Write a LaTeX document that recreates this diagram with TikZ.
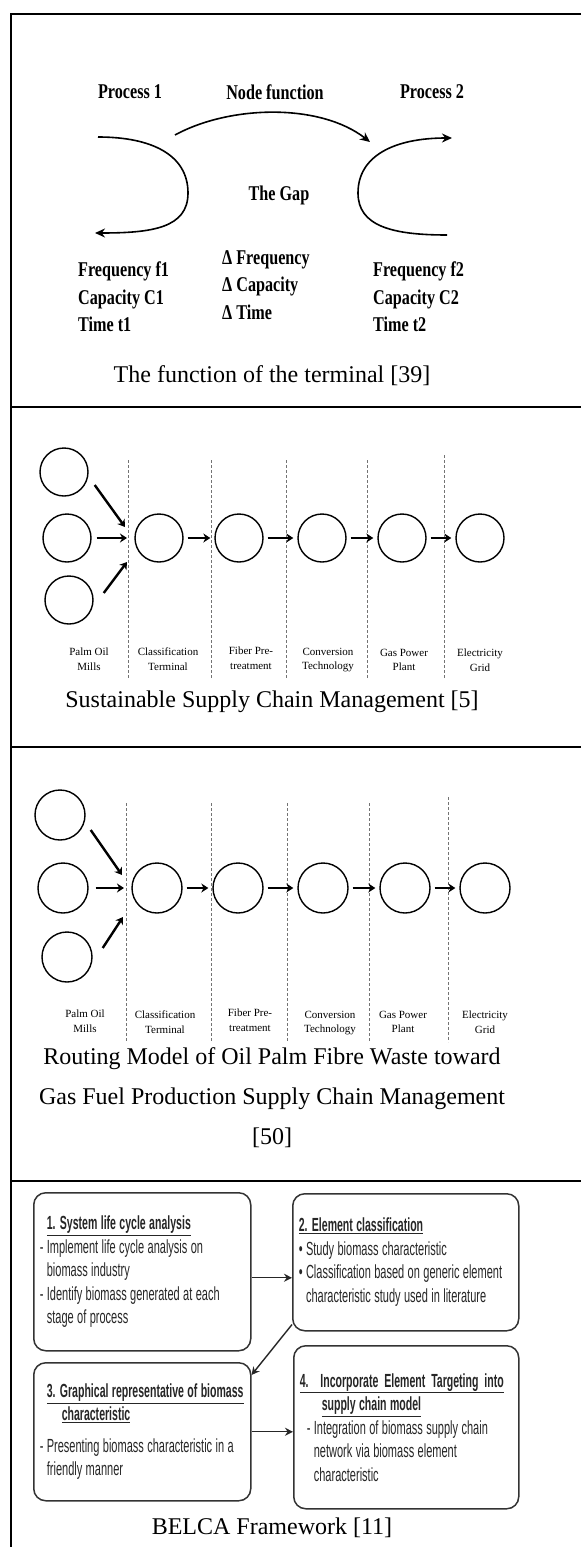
\documentclass[tikz,border=0pt]{standalone}
\usepackage{fontspec}
\setmainfont{Liberation Serif}
\newfontfamily\gapfont[FakeStretch=0.77]{Liberation Serif}
\newfontfamily\belcafont[FakeStretch=0.58]{Liberation Sans}
\newfontfamily\belcahead[FakeStretch=0.555]{Liberation Sans}
\newcommand{\narrowspace}[1]{\spaceskip=#1 plus 1pt minus 0.5pt\relax}
\usepackage{tikz}
\usetikzlibrary{arrows.meta,positioning,calc}

\begin{document}
\begin{tikzpicture}[
    x=1pt, y=-1pt,
    rule/.style={line width=1.8pt},
    caption/.style={font=\fontsize{24}{40}\selectfont, align=center, inner sep=0pt},
    gaptext/.style={font=\gapfont\bfseries\fontsize{21}{27.5}\selectfont\narrowspace{4pt},
                    align=left, inner sep=0pt},
    curve/.style={-{Stealth[length=10pt,width=9pt]}, line width=1.6pt},
    mill/.style={draw, circle, line width=1.4pt, minimum size=48pt, inner sep=0pt},
    stage/.style={font=\fontsize{11}{14.5}\selectfont, align=center, inner sep=0pt},
    divider/.style={densely dashed, black!55, line width=0.8pt},
    flow/.style={-{Stealth[length=7pt,width=9pt]}, line width=2.4pt},
    phase/.style={draw=black!80, line width=1.5pt, rounded corners=12pt, anchor=north west, align=flush left,
                  inner xsep=6pt, text=black!85,
                  font=\belcafont\fontsize{19}{23.5}\selectfont\narrowspace{3.4pt}},
    link/.style={-{Stealth[length=8pt,width=8pt]}, line width=1.4pt, black!85}
]
    \useasboundingbox (0,0) rectangle (581,1547);

    % table rules
    \draw[rule] (581,14) -- (11,14) -- (11,1547);
    \draw[rule] (11,407) -- (581,407);
    \draw[rule] (11,747) -- (581,747);
    \draw[rule] (11,1181) -- (581,1181);

    % terminal function
    \node[gaptext] (proc1) at (130,92) {Process 1};
    \node[gaptext] (nodefn) at (275,92) {Node function};
    \node[gaptext] (proc2) at (432,92) {Process 2};
    \node[gaptext] (gap) at (279,195) {The Gap};
    \node[gaptext, anchor=west] (delta) at (222,285) {Δ Frequency\\Δ Capacity\\Δ Time};
    \node[gaptext, anchor=west] (side1) at (78,297) {Frequency f1\\Capacity C1\\Time t1};
    \node[gaptext, anchor=west] (side2) at (373,297) {Frequency f2\\Capacity C2\\Time t2};

    \coordinate (p1in) at (98,137);
    \coordinate (p1out) at (95,233);
    \coordinate (p1top) at (175,135);
    \coordinate (p2top) at (370,142);
    \coordinate (p2in) at (447,235);
    \coordinate (p2out) at (452,138);
    \draw[curve] (p1in) .. controls (152,137) and (188,155) .. (188,193)
                        .. controls (188,228) and (152,233) .. (p1out);
    \draw[curve] (p1top) .. controls (230,105) and (320,103) .. (p2top);
    \draw[curve] (p2in) .. controls (392,235) and (358,226) .. (358,193)
                        .. controls (358,156) and (394,138) .. (p2out);

    \node[caption] (cap1) at (272,376) {The function of the terminal [39]};

    % sustainable supply chain
    \draw[divider] (128,460) -- (128,678);
    \draw[divider] (211,460) -- (211,678);
    \draw[divider] (286,460) -- (286,678);
    \draw[divider] (367,460) -- (367,678);
    \draw[divider] (444,455) -- (444,678);

    \node[mill] (a1) at (64,472) {};
    \node[mill] (a2) at (67,538) {};
    \node[mill] (a3) at (69,600) {};
    \node[mill] (a4) at (159,538) {};
    \node[mill] (a5) at (239,538) {};
    \node[mill] (a6) at (322,538) {};
    \node[mill] (a7) at (402,538) {};
    \node[mill] (a8) at (480,538) {};

    \coordinate (ja1) at (125,527);
    \coordinate (ja2) at (127,538);
    \coordinate (ja3) at (127,562);
    \draw[flow] ($(a1.east)+(6,13)$) -- (ja1);
    \draw[flow, shorten <=5pt] (a2) -- (ja2);
    \draw[flow] ($(a3.east)+(10,-7)$) -- (ja3);
    \draw[flow, shorten <=4pt, shorten >=4pt] (a4) -- (a5);
    \draw[flow, shorten <=4pt, shorten >=4pt] (a5) -- (a6);
    \draw[flow, shorten <=4pt, shorten >=4pt] (a6) -- (a7);
    \draw[flow, shorten <=4pt, shorten >=4pt] (a7) -- (a8);

    \node[stage] (la1) at (89,659) {Palm Oil\\Mills};
    \node[stage] (la2) at (168,659) {Classification\\Terminal};
    \node[stage] (la3) at (251,658) {Fiber Pre-\\treatment};
    \node[stage] (la4) at (328,660) {Conversion\\Technology};
    \node[stage] (la5) at (404,660) {Gas Power\\Plant};
    \node[stage] (la6) at (480,660) {Electricity\\Grid};

    \node[caption] (cap2) at (272,702) {Sustainable Supply Chain Management [5]};

    % routing model
    \draw[divider] (126,803) -- (126,1042);
    \draw[divider] (211,803) -- (211,1042);
    \draw[divider] (287,803) -- (287,1042);
    \draw[divider] (369,803) -- (369,1042);
    \draw[divider] (448,797) -- (448,1042);

    \node[mill, minimum size=50pt] (b1) at (60,815) {};
    \node[mill, minimum size=50pt] (b2) at (63,888) {};
    \node[mill, minimum size=50pt] (b3) at (67,957) {};
    \node[mill, minimum size=50pt] (b4) at (157,888) {};
    \node[mill, minimum size=50pt] (b5) at (238,888) {};
    \node[mill, minimum size=50pt] (b6) at (323,888) {};
    \node[mill, minimum size=50pt] (b7) at (405,888) {};
    \node[mill, minimum size=50pt] (b8) at (485,888) {};

    \coordinate (jb1) at (122,875);
    \coordinate (jb2) at (124,888);
    \coordinate (jb3) at (123,917);
    \draw[flow] ($(b1.east)+(5,15)$) -- (jb1);
    \draw[flow, shorten <=7pt] (b2) -- (jb2);
    \draw[flow] ($(b3.east)+(10,-9)$) -- (jb3);
    \draw[flow, shorten <=4pt, shorten >=4pt] (b4) -- (b5);
    \draw[flow, shorten <=4pt, shorten >=4pt] (b5) -- (b6);
    \draw[flow, shorten <=4pt, shorten >=4pt] (b6) -- (b7);
    \draw[flow, shorten <=4pt, shorten >=4pt] (b7) -- (b8);

    \node[stage] (lb1) at (85,1021) {Palm Oil\\Mills};
    \node[stage] (lb2) at (165,1022) {Classification\\Terminal};
    \node[stage] (lb3) at (250,1020) {Fiber Pre-\\treatment};
    \node[stage] (lb4) at (330,1023) {Conversion\\Technology};
    \node[stage] (lb5) at (403,1022) {Gas Power\\Plant};
    \node[stage] (lb6) at (485,1022) {Electricity\\Grid};

    \node[caption] (cap3) at (272,1098) {Routing Model of Oil Palm Fibre Waste toward\\Gas Fuel Production Supply Chain Management\\{[50]}};

    % BELCA framework
    \node[phase, minimum width=217pt, minimum height=158pt, text width=205pt] (s1) at (33,1192)
        {\hspace*{7pt}{\belcahead\bfseries\underline{1. System life cycle analysis}}\\
         - Implement life cycle analysis on\\
         \phantom{- }biomass industry\\
         - Identify biomass generated at each\\
         \phantom{- }stage of process};
    \node[phase, minimum width=226pt, minimum height=137pt, text width=214pt] (s2) at (292,1193)
        {{\belcahead\bfseries\underline{2. Element classification}}\\
         • Study biomass characteristic\\
         • Classification based on generic element\\
         \phantom{• }characteristic study used in literature};
    \node[phase, minimum width=217pt, minimum height=138pt, text width=205pt] (s3) at (33,1362)
        {\hspace*{7pt}{\belcahead\bfseries\underline{3. Graphical representative of biomass}}\\
         \hspace*{22pt}{\belcahead\bfseries\underline{characteristic}}\\[8pt]
         - Presenting biomass characteristic in a\\
         \phantom{- }friendly manner};
    \node[phase, minimum width=225pt, minimum height=163pt, text width=213pt] (s4) at (293,1345)
        {{\belcahead\bfseries\underline{\makebox[204pt][s]{4. Incorporate Element Targeting into}}}\\
         \hspace*{22pt}{\belcahead\bfseries\underline{supply chain model}}\\
         \hspace*{7pt}- Integration of biomass supply chain\\
         \hspace*{7pt}\phantom{- }network via biomass element\\
         \hspace*{7pt}\phantom{- }characteristic};

    \draw[link] ([yshift=-6pt]s1.east) -- ([yshift=-6pt]s1.east -| s2.west);
    \draw[link] ([yshift=7pt]s2.south west) -- ([yshift=-13pt]s3.north east);
    \draw[link] (s3.east) -- (s3.east -| s4.west);

    \node[caption] (cap4) at (272,1528) {BELCA Framework [11]};
\end{tikzpicture}
\end{document}
